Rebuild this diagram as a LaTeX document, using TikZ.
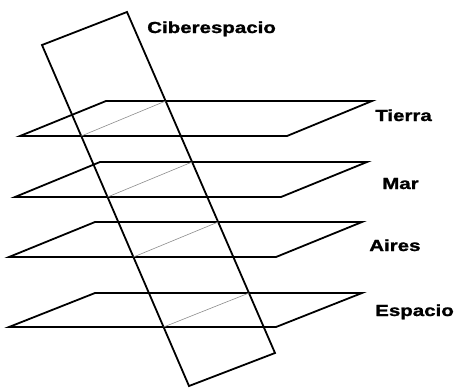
\documentclass[tikz,border=0pt]{standalone}
\usepackage{fontspec}
\setmainfont{Liberation Sans}
\newfontfamily\lblfont[BoldFeatures={FakeBold=1.2}]{Liberation Sans}
\usepackage{tikz}
\usetikzlibrary{calc}

\begin{document}
\begin{tikzpicture}[
  x=1pt, y=-1pt,
  edge/.style={draw=black, line width=1.8pt, line join=miter},
  cut/.style={draw=black!45, line width=0.6pt},
  lbl/.style={font=\lblfont\fontsize{16}{16}\selectfont\bfseries, anchor=base west,
              inner sep=0pt, xscale=1.28, transform shape}
]
\useasboundingbox (0,0) rectangle (454,389);
% the slanted cyberspace sheet
\coordinate (c1) at (42,45);
\coordinate (c2) at (127,12);
\coordinate (c3) at (275,353);
\coordinate (c4) at (189,386);
% Tierra
\coordinate (t1) at (20,136);
\coordinate (t2) at (106,101);
\coordinate (t3) at (372,101);
\coordinate (t4) at (287,136);
\draw[edge] (t1) -- (t2) -- (t3) -- (t4) -- cycle;
% Mar
\coordinate (m1) at (15,197);
\coordinate (m2) at (100,162);
\coordinate (m3) at (367,162);
\coordinate (m4) at (281,197);
\draw[edge] (m1) -- (m2) -- (m3) -- (m4) -- cycle;
% Aires
\coordinate (a1) at (9,257);
\coordinate (a2) at (95,222);
\coordinate (a3) at (362,222);
\coordinate (a4) at (276,257);
\draw[edge] (a1) -- (a2) -- (a3) -- (a4) -- cycle;
% Espacio
\coordinate (e1) at (9,327);
\coordinate (e2) at (95,293);
\coordinate (e3) at (362,293);
\coordinate (e4) at (276,327);
\draw[edge] (e1) -- (e2) -- (e3) -- (e4) -- cycle;
\draw[edge] (c1) -- (c2) -- (c3) -- (c4) -- cycle;
% where the sheet cuts each plane
\draw[cut] (intersection of c1--c4 and t1--t4) -- (intersection of c2--c3 and t2--t3);
\draw[cut] (intersection of c1--c4 and m1--m4) -- (intersection of c2--c3 and m2--m3);
\draw[cut] (intersection of c1--c4 and a1--a4) -- (intersection of c2--c3 and a2--a3);
\draw[cut] (intersection of c1--c4 and e1--e4) -- (intersection of c2--c3 and e2--e3);
% labels
\node[lbl] (ciber) at (147,33) {Ciberespacio};
\node[lbl] (tierra) at (375,121) {Tierra};
\node[lbl] (mar) at (382,189) {Mar};
\node[lbl] (aires) at (369,251) {Aires};
\node[lbl] (espacio) at (375,316) {Espacio};
\end{tikzpicture}
\end{document}
